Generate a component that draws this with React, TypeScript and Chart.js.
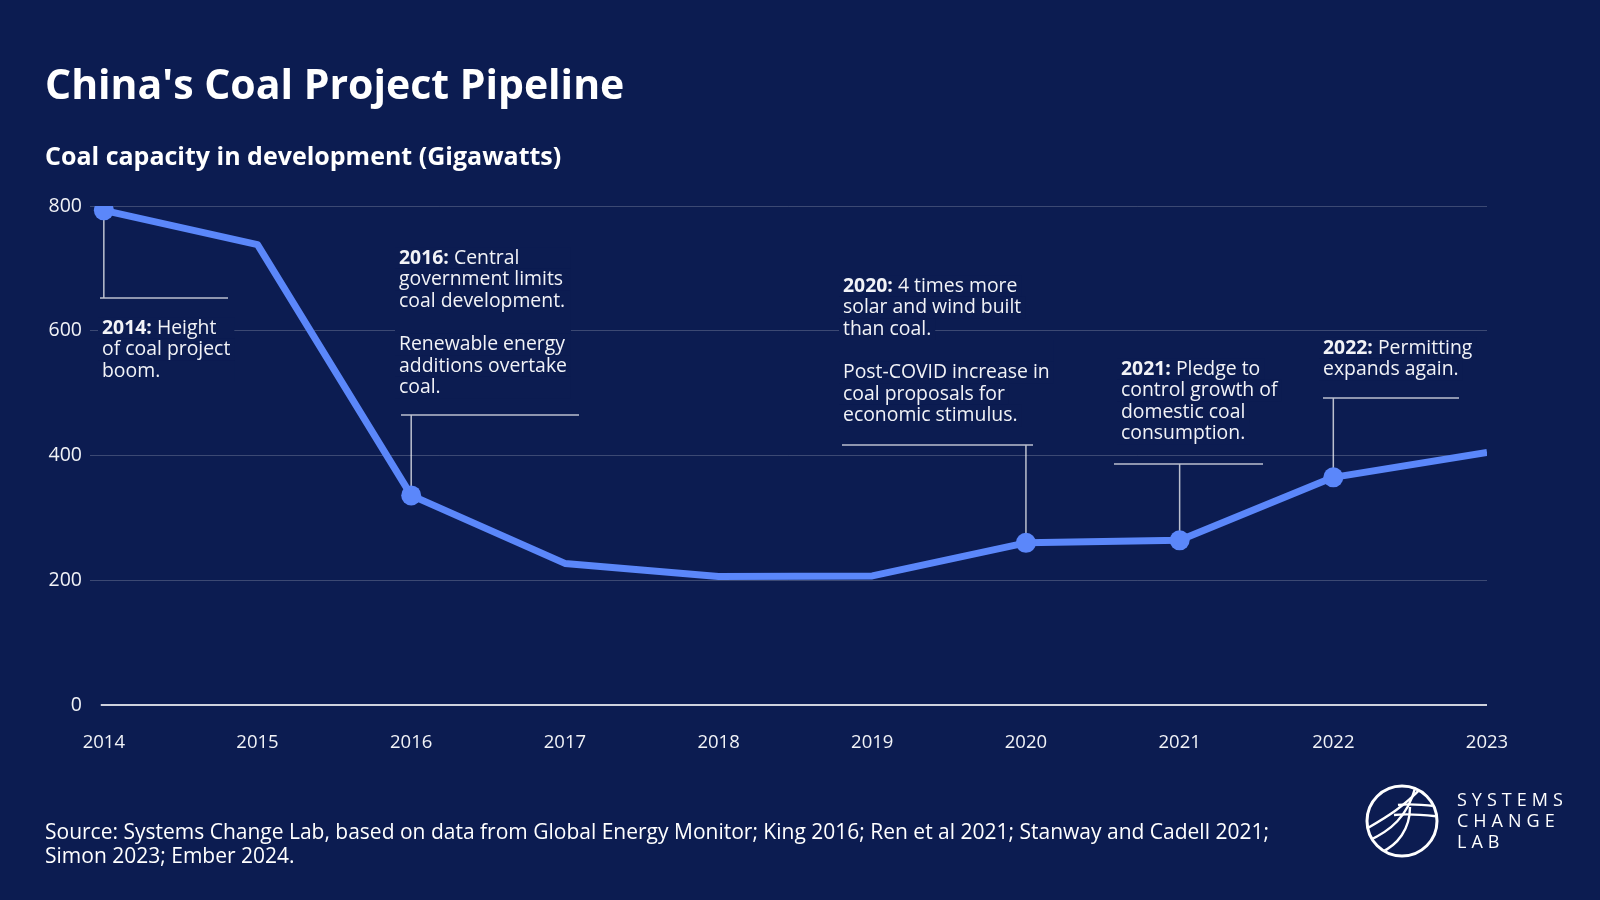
import React, { useEffect, useRef } from 'react';
import { Chart, registerables } from 'chart.js';

Chart.register(...registerables);

// ---------- Data ----------
const years = [2014, 2015, 2016, 2017, 2018, 2019, 2020, 2021, 2022, 2023];
const capacityGW = [793, 738, 336, 227, 206, 207, 260, 264, 365, 405];
const markedYears = [2014, 2016, 2020, 2021, 2022];
const yTickValues = [0, 200, 400, 600, 800];

const titleText = "China's Coal Project Pipeline";
const subtitleText = 'Coal capacity in development (Gigawatts)';
const sourceLines = [
  'Source: Systems Change Lab, based on data from Global Energy Monitor; King 2016; Ren et al 2021; Stanway and Cadell 2021;',
  'Simon 2023; Ember 2024.',
];
const logoLines = ['SYSTEMS', 'CHANGE', 'LAB'];

const noteYears = [2014, 2016, 2020, 2021, 2022];
const noteHeads = ['2014:', '2016:', '2020:', '2021:', '2022:'];
const noteBodies = [
  [' Height', 'of coal project', 'boom.'],
  [' Central', 'government limits', 'coal development.', '', 'Renewable energy', 'additions overtake', 'coal.'],
  [' 4 times more', 'solar and wind built', 'than coal.', '', 'Post-COVID increase in', 'coal proposals for', 'economic stimulus.'],
  [' Pledge to', 'control growth of', 'domestic coal', 'consumption.'],
  [' Permitting', 'expands again.'],
];

// ---------- Layout / style ----------
const BG = '#0c1c51';
const LINE = '#5b87fa';
const FONT = '"Open Sans", "Noto Sans", sans-serif';
const noteLayout = [
  { tx: 102, ty: 328, ruleY: 298, rx1: 100, rx2: 228, mask: 'block' },
  { tx: 399, ty: 258, ruleY: 415, rx1: 401, rx2: 579, mask: 'block' },
  { tx: 843, ty: 286, ruleY: 445, rx1: 842, rx2: 1033, mask: 'line' },
  { tx: 1121, ty: 369, ruleY: 464, rx1: 1114, rx2: 1263, mask: 'line' },
  { tx: 1323, ty: 348, ruleY: 398, rx1: 1323, rx2: 1459, mask: 'line' },
];
const NOTE_LH = 21.6;
const NOTE_SIZE = 19.4;

function drawLogo(ctx: CanvasRenderingContext2D) {
  const cx = 1402, cy = 821, r = 35;
  ctx.save();
  ctx.strokeStyle = '#ffffff';
  ctx.lineWidth = 3;
  ctx.beginPath();
  ctx.arc(cx, cy, r, 0, Math.PI * 2);
  ctx.stroke();
  ctx.beginPath();
  ctx.arc(cx, cy, r - 1, 0, Math.PI * 2);
  ctx.clip();
  ctx.lineWidth = 2.4;
  const path = (pts: number[]) => {
    ctx.beginPath();
    ctx.moveTo(cx + pts[0], cy + pts[1]);
    ctx.bezierCurveTo(cx + pts[2], cy + pts[3], cx + pts[4], cy + pts[5], cx + pts[6], cy + pts[7]);
    ctx.stroke();
  };
  path([-36, 8, -15, -4, 2, -14, 24, -38]);
  path([-34, 20, -12, 10, 6, -4, 14, -36]);
  path([-22, 32, -4, 24, 8, 8, 8, -14]);
  path([-4, -16, 10, -18, 24, -16, 40, -14]);
  path([-8, -6, 8, -8, 24, -6, 40, -4]);
  ctx.restore();

  ctx.save();
  ctx.fillStyle = '#ffffff';
  ctx.font = `400 18px ${FONT}`;
  (ctx as any).letterSpacing = '5px';
  ctx.textBaseline = 'middle';
  logoLines.forEach((t, i) => ctx.fillText(t, 1457, 801 + i * 21));
  ctx.restore();
}

const decorPlugin = {
  id: 'decor',
  beforeDraw(chart: any) {
    const ctx = chart.ctx as CanvasRenderingContext2D;
    ctx.save();
    ctx.fillStyle = BG;
    ctx.fillRect(0, 0, chart.width, chart.height);
    ctx.restore();
  },
  beforeDatasetsDraw(chart: any) {
    const ctx = chart.ctx as CanvasRenderingContext2D;
    const xs = chart.scales.x;
    const ys = chart.scales.y;
    // baseline
    ctx.save();
    ctx.strokeStyle = 'rgba(255,255,255,0.8)';
    ctx.lineWidth = 2;
    const y0 = ys.getPixelForValue(0);
    ctx.beginPath();
    ctx.moveTo(xs.getPixelForValue(2013.98), y0);
    ctx.lineTo(chart.chartArea.right, y0);
    ctx.stroke();
    ctx.restore();

    noteYears.forEach((yr, i) => {
      const L = noteLayout[i];
      const head = noteHeads[i];
      const body = noteBodies[i];
      const boldFont = `700 ${NOTE_SIZE}px ${FONT}`;
      const regFont = `400 ${NOTE_SIZE}px ${FONT}`;
      ctx.save();
      const widths = body.map((ln, j) => {
        ctx.font = regFont;
        let w = ctx.measureText(ln).width;
        if (j === 0) {
          ctx.font = boldFont;
          w += ctx.measureText(head).width;
        }
        return w;
      });
      const maxW = Math.max(...widths);
      ctx.fillStyle = BG;
      body.forEach((ln, j) => {
        const cyLine = L.ty + j * NOTE_LH;
        const w = L.mask === 'block' || ln === '' ? maxW : widths[j];
        ctx.fillRect(L.tx - 4, cyLine - NOTE_LH / 2, w + 8, NOTE_LH);
      });
      ctx.fillStyle = '#f2f3f7';
      ctx.textBaseline = 'middle';
      body.forEach((ln, j) => {
        const cyLine = L.ty + j * NOTE_LH;
        let x = L.tx;
        if (j === 0) {
          ctx.font = boldFont;
          ctx.fillText(head, x, cyLine);
          x += ctx.measureText(head).width;
        }
        ctx.font = regFont;
        ctx.fillText(ln, x, cyLine);
      });
      const idx = years.indexOf(yr);
      const px = xs.getPixelForValue(yr);
      const py = ys.getPixelForValue(capacityGW[idx]);
      ctx.strokeStyle = 'rgba(255,255,255,0.72)';
      ctx.lineWidth = 1.5;
      ctx.beginPath();
      ctx.moveTo(px, py);
      ctx.lineTo(px, L.ruleY);
      ctx.moveTo(L.rx1, L.ruleY);
      ctx.lineTo(L.rx2, L.ruleY);
      ctx.stroke();
      ctx.restore();
    });
  },
  afterDraw(chart: any) {
    const ctx = chart.ctx as CanvasRenderingContext2D;
    ctx.save();
    ctx.fillStyle = '#ffffff';
    ctx.textBaseline = 'alphabetic';
    ctx.font = `700 41px ${FONT}`;
    ctx.fillText(titleText, 45, 99);
    ctx.font = `700 25px ${FONT}`;
    ctx.fillText(subtitleText, 45, 165);
    ctx.font = `400 21px ${FONT}`;
    ctx.textBaseline = 'middle';
    sourceLines.forEach((t, i) => ctx.fillText(t, 45, 833 + i * 24));
    ctx.restore();
    drawLogo(ctx);
  },
};

export default function App() {
  const ref = useRef<HTMLCanvasElement | null>(null);
  useEffect(() => {
    if (!ref.current) return;
    const chart = new Chart(ref.current, {
      type: 'line',
      data: {
        datasets: [
          {
            data: years.map((y, i) => ({ x: y, y: capacityGW[i] })),
            borderColor: LINE,
            backgroundColor: LINE,
            borderWidth: 7,
            borderJoinStyle: 'round',
            pointRadius: years.map((y) => (markedYears.includes(y) ? 10 : 0)),
            pointBackgroundColor: LINE,
            pointBorderWidth: 0,
            pointHoverRadius: 0,
            tension: 0,
          },
        ],
      },
      options: {
        animation: false,
        responsive: false,
        events: [],
        layout: { padding: { left: 0, top: 206, right: 113, bottom: 145 } },
        plugins: { legend: { display: false }, tooltip: { enabled: false }, title: { display: false } },
        scales: {
          x: {
            type: 'linear',
            min: 2013.91,
            max: 2023,
            afterBuildTicks: (s: any) => {
              s.ticks = years.map((v) => ({ value: v }));
            },
            afterFit: (s: any) => {
              s.height = 50;
            },
            ticks: {
              color: '#f2f3f7',
              font: { family: FONT, size: 18.5 },
              padding: 27,
              maxRotation: 0,
              autoSkip: false,
              callback: (v: any) => String(v),
            },
            grid: { display: false, drawTicks: false },
            border: { display: false },
          },
          y: {
            min: 0,
            max: 800,
            afterBuildTicks: (s: any) => {
              s.ticks = yTickValues.map((v) => ({ value: v }));
            },
            afterFit: (s: any) => {
              s.width = 90;
            },
            ticks: {
              color: '#f2f3f7',
              font: { family: FONT, size: 19.5 },
              padding: 8,
              callback: (v: any) => String(v),
            },
            grid: {
              color: (c: any) => (c.tick && c.tick.value === 0 ? 'rgba(0,0,0,0)' : 'rgba(255,255,255,0.2)'),
              lineWidth: 1,
              drawTicks: false,
            },
            border: { display: false },
          },
        },
      },
      plugins: [decorPlugin],
    } as any);
    return () => chart.destroy();
  }, []);
  return (
    <div style={{ position: 'absolute', left: 0, top: 0, width: 1600, height: 900, background: BG }}>
      <canvas ref={ref} width={1600} height={900} style={{ width: 1600, height: 900, display: 'block' }} />
    </div>
  );
}
